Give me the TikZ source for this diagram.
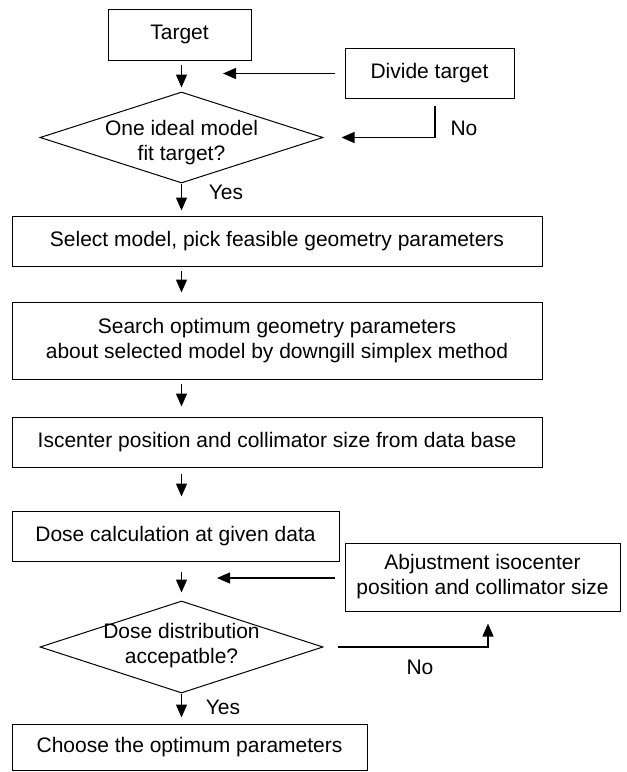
\documentclass[tikz,border=0pt]{standalone}
\usepackage{fontspec}
\setmainfont{Liberation Sans}
\usetikzlibrary{arrows.meta,shapes.geometric}
\begin{document}
\begin{tikzpicture}[x=1pt,y=-1pt,
  box/.style={draw, line width=1pt, inner sep=0pt, align=center,
              font=\fontsize{21}{25}\selectfont},
  decision/.style={draw, diamond, line width=1pt, inner sep=0pt},
  txt/.style={align=center, inner sep=0pt, font=\fontsize{21}{25}\selectfont},
  arr/.style={line width=1.3pt, -{Triangle[width=11pt,length=13pt]}},
]
\useasboundingbox (0,0) rectangle (627,772);

% process boxes
\node[box, minimum width=143pt, minimum height=51pt] (target)   at (179.5,34.5) {Target};
\node[box, minimum width=169pt, minimum height=50pt] (divide)   at (429.5,73.5) {Divide target};
\node[box, minimum width=530pt, minimum height=50pt] (select)   at (277,241)   {Select model, pick feasible geometry parameters};
\node[box, minimum width=530pt, minimum height=77pt] (search)   at (277,340.5) {Search optimum geometry parameters\\about selected model by downgill simplex method};
\node[box, minimum width=530pt, minimum height=50pt] (iscenter) at (277,442)   {Iscenter position and collimator size from data base};
\node[box, minimum width=327pt, minimum height=50pt] (dosecalc) at (175.5,536) {Dose calculation at given data};
\node[box, minimum width=275pt, minimum height=68pt] (adjust)   at (482.5,577) {Abjustment isocenter\\position and collimator size};
\node[box, minimum width=355pt, minimum height=46pt] (choose)   at (189.5,747) {Choose the optimum parameters};

% decisions
\node[decision, minimum width=283pt, minimum height=91pt] (dia1) at (181.5,137.5) {};
\node[txt] (dia1text) at (181.5,143) {One ideal model\\fit target?};
\node[decision, minimum width=283pt, minimum height=92pt] (dia2) at (181.5,647) {};
\node[txt] (dia2text) at (181.5,645.5) {Dose distribution\\accepatble?};

% branch labels
\node[txt] (yes1) at (226,192) {Yes};
\node[txt] (no1)  at (464,128) {No};
\node[txt] (yes2) at (223,707) {Yes};
\node[txt] (no2)  at (420,667) {No};

% loop-back arrow ends
\coordinate (join1) at (223,73.5);
\coordinate (join2) at (217,578);

% main flow
\draw[arr, shorten <=4pt, shorten >=4pt] (target.south -| dia1.north) -- (dia1.north);
\draw[arr, shorten >=5pt] (dia1.south) -- (dia1.south |- select.north);
\draw[arr, shorten <=4pt, shorten >=9pt] (select.south -| dia1.south) -- (dia1.south |- search.north);
\draw[arr, shorten <=4pt, shorten >=10pt] (search.south -| dia1.south) -- (dia1.south |- iscenter.north);
\draw[arr, shorten <=6pt, shorten >=14pt] (iscenter.south -| dia1.south) -- (dia1.south |- dosecalc.north);
\draw[arr, shorten <=10pt, shorten >=8pt] (dosecalc.south -| dia2.north) -- (dia2.north);
\draw[arr, shorten >=6pt] (dia2.south) -- (dia2.south |- choose.north);

% loops
\draw[arr, shorten <=10pt] (divide.west) -- (join1);
\draw[arr, shorten <=7pt, shorten >=18pt] ([xshift=5.5pt]divide.south) |- (dia1.east);
\draw[arr, shorten <=10pt] (adjust.west |- join2) -- (join2);
\draw[arr, shorten <=14pt, shorten >=12pt] (dia2.east) -| ([xshift=5.5pt]adjust.south);
\end{tikzpicture}
\end{document}
